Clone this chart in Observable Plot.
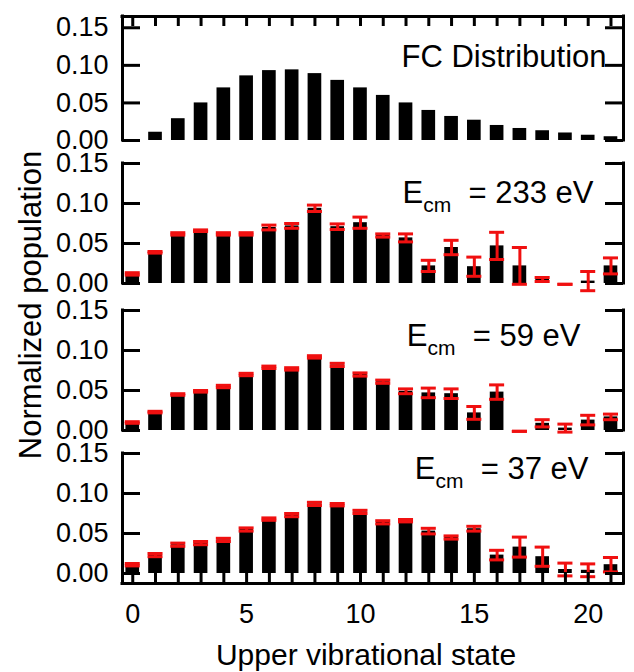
<!DOCTYPE html>
<html><head><meta charset="utf-8">
<script src="https://cdn.jsdelivr.net/npm/d3@7"></script>
<script src="https://cdn.jsdelivr.net/npm/@observablehq/plot@0.6"></script>
<style>
body{margin:0;background:#fff;}
#chart{position:relative;width:634px;height:672px;font-family:"Liberation Sans",Arial,sans-serif;color:#000;}
#chart svg{position:absolute;left:0;overflow:visible;background:none;}
.ttl{position:absolute;font-size:30px;white-space:nowrap;line-height:1.1;}
</style></head><body><div id="chart"></div>
<script>
// ---- data ----
const states = [0,1,2,3,4,5,6,7,8,9,10,11,12,13,14,15,16,17,18,19,20,21];
const xTickLabels = [0,5,10,15,20];
const yTicks = [0,0.05,0.10,0.15];
const panelLabels = ["FC Distribution","E_cm = 233 eV","E_cm = 59 eV","E_cm = 37 eV"];
const fcPop  = [0,0.011,0.029,0.050,0.070,0.086,0.093,0.094,0.089,0.080,0.070,0.060,0.050,0.040,0.032,0.027,0.020,0.016,0.013,0.010,0.007,0.005];
const pop233 = [0.012,0.039,0.062,0.066,0.062,0.062,0.070,0.072,0.094,0.071,0.076,0.060,0.057,0.022,0.045,0.021,0.047,0.022,0.005,-0.001,0.003,0.022];
const err233 = [0.0015,0.001,0.0015,0.001,0.0015,0.0015,0.003,0.003,0.004,0.0035,0.007,0.002,0.005,0.007,0.009,0.012,0.017,0.023,0.0025,0,0.012,0.010];
const pop59  = [0.010,0.023,0.045,0.049,0.055,0.070,0.079,0.077,0.092,0.082,0.070,0.061,0.049,0.047,0.046,0.022,0.048,-0.001,0.009,0.003,0.013,0.017];
const err59  = [0.001,0.001,0.001,0.001,0.0015,0.0015,0.0015,0.0015,0.0015,0.002,0.002,0.002,0.003,0.006,0.006,0.008,0.009,0,0.0045,0.005,0.006,0.0035];
const pop37  = [0.011,0.023,0.036,0.038,0.042,0.055,0.068,0.073,0.087,0.086,0.077,0.064,0.066,0.053,0.045,0.056,0.023,0.033,0.021,0.005,0.004,0.011];
const err37  = [0.0015,0.002,0.002,0.002,0.002,0.002,0.0015,0.002,0.002,0.0015,0.002,0.002,0.0015,0.0035,0.002,0.003,0.006,0.0125,0.012,0.008,0.008,0.009];

// ---- layout ----
const W = 634, ML = 122, MR = 11;
const FW = W - ML - MR;
const xDomain = [-0.45, 21.55];
const pxX = FW / (xDomain[1] - xDomain[0]);
const RED = "#f01010";
const YTICK = 18, XTICK = 11, TTICK = 10;
const panels = [
  {values: fcPop, errors: null, label: panelLabels[0], top: 0, height: 150, mt: 16, mb: 10, yDomain: [0, 0.165], sides: ["top"], dx: -17, dy: 41},
  {values: pop233, errors: err233, label: panelLabels[1], top: 150, height: 145, mt: 13, mb: 12, yDomain: [0, 0.15], sides: [], dx: -30, dy: 30},
  {values: pop59, errors: err59, label: panelLabels[2], top: 295, height: 147, mt: 15, mb: 12, yDomain: [0, 0.15], sides: [], dx: -43, dy: 26},
  {values: pop37, errors: err37, label: panelLabels[3], top: 442, height: 150, mt: 11, mb: 9, yDomain: [-0.0125, 0.15], sides: ["bottom"], dx: -35, dy: 16}
];

const root = document.getElementById("chart");

panels.forEach((p) => {
  const FH = p.height - p.mt - p.mb;
  const pxY = FH / (p.yDomain[1] - p.yDomain[0]);
  const rows = states.map((s, i) => ({s, v: p.values[i], e: p.errors ? p.errors[i] : 0}));
  const yTickRows = yTicks.map(v => ({v}));
  const xTickRows = states.map(s => ({s}));
  const lx = YTICK / pxX, ly = (p.sides.includes("top") ? TTICK : XTICK) / pxY;
  const marks = [
    Plot.rectY(rows, {x1: d => d.s - 0.3, x2: d => d.s + 0.3, y1: 0, y2: "v", fill: "black"})
  ];
  if (p.errors) {
    marks.push(
      Plot.ruleX(rows, {x: "s", y1: d => d.v - d.e, y2: d => d.v + d.e, stroke: RED, strokeWidth: 3}),
      Plot.ruleY(rows, {y: d => d.v + d.e, x1: d => d.s - 0.33, x2: d => d.s + 0.33, stroke: RED, strokeWidth: 3}),
      Plot.ruleY(rows, {y: d => d.v - d.e, x1: d => d.s - 0.33, x2: d => d.s + 0.33, stroke: RED, strokeWidth: 3})
    );
  }
  // frame lines
  marks.push(
    Plot.ruleX([xDomain[0]], {strokeWidth: 3, strokeLinecap: "square"}),
    Plot.ruleX([xDomain[1]], {strokeWidth: 3, strokeLinecap: "square"})
  );
  if (p.sides.includes("top")) {
    marks.push(
      Plot.ruleY([p.yDomain[1]], {strokeWidth: 3, strokeLinecap: "square"}),
      Plot.ruleX(xTickRows, {x: "s", y1: d => p.yDomain[1] - ly, y2: d => p.yDomain[1], stroke: "black", strokeWidth: 3})
    );
  }
  if (p.sides.includes("bottom")) {
    marks.push(
      Plot.ruleY([p.yDomain[0]], {strokeWidth: 3, strokeLinecap: "square"}),
      Plot.ruleX(xTickRows, {x: "s", y1: d => p.yDomain[0], y2: d => p.yDomain[0] + ly, stroke: "black", strokeWidth: 3}),
      Plot.axisX({anchor: "bottom", ticks: xTickLabels, tickSize: 0, tickPadding: 20, tickFormat: d => String(d), label: null})
    );
  }
  marks.push(
    Plot.axisY({anchor: "left", ticks: yTicks, tickSize: 0, tickPadding: 14, tickFormat: ".2f", label: null}),
    Plot.ruleY(yTickRows, {y: "v", x1: d => xDomain[0], x2: d => xDomain[0] + lx, stroke: "black", strokeWidth: 3}),
    Plot.ruleY(yTickRows, {y: "v", x1: d => xDomain[1] - lx, x2: d => xDomain[1], stroke: "black", strokeWidth: 3}),
    Plot.text([p.label], {text: d => d, frameAnchor: "top-right", textAnchor: "end", lineAnchor: "middle", dx: p.dx, dy: p.dy, fontSize: 31})
  );
  const chart = Plot.plot({
    width: W, height: p.height,
    marginLeft: ML, marginRight: MR, marginTop: p.mt, marginBottom: p.mb,
    x: {domain: xDomain, axis: null},
    y: {domain: p.yDomain, axis: null},
    style: {fontSize: "27px", fontFamily: '"Liberation Sans", Arial, sans-serif', color: "black", background: "none", overflow: "visible"},
    marks
  });
  chart.style.top = p.top + "px";
  // subscript for E_cm
  d3.select(chart).selectAll("text").each(function () {
    const t = this.textContent;
    if (t.startsWith("E_cm")) {
      const rest = t.slice(4);
      const sel = d3.select(this);
      sel.text(null);
      sel.append("tspan").text("E");
      sel.append("tspan").attr("font-size", 21).attr("dy", 9).text("cm");
      sel.append("tspan").attr("dy", -9).text("\u00a0" + rest);
    }
  });
  root.appendChild(chart);
});

// axis titles
const yt = document.createElement("div");
yt.className = "ttl";
yt.style.fontSize = "31px";
yt.textContent = "Normalized population";
yt.style.left = "31px"; yt.style.top = "305px";
yt.style.transform = "translate(-50%,-50%) rotate(-90deg)";
root.appendChild(yt);
const xt = document.createElement("div");
xt.className = "ttl";
xt.textContent = "Upper vibrational state";
xt.style.left = "366px"; xt.style.top = "654px";
xt.style.transform = "translate(-50%,-50%)";
root.appendChild(xt);
</script></body></html>
